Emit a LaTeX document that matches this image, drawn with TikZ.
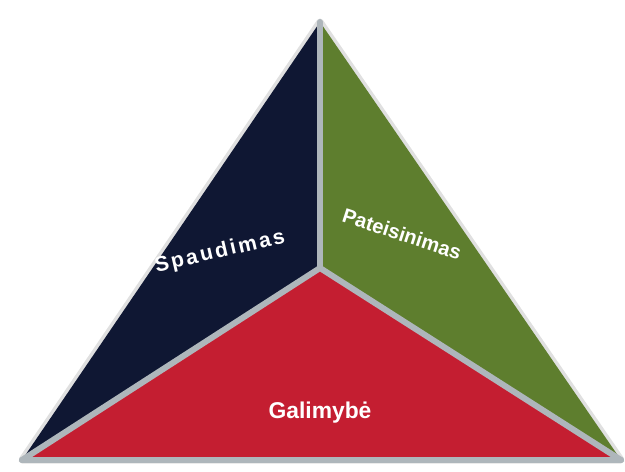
\documentclass[tikz,border=0pt]{standalone}
\usepackage{fontspec}
\setmainfont{Liberation Sans}
\definecolor{navy}{HTML}{0F1733}
\definecolor{olive}{HTML}{5E7E2E}
\definecolor{crimson}{HTML}{C41E31}
\definecolor{seam}{HTML}{AEB6BB}
\begin{document}
\begin{tikzpicture}[x=0.02cm, y=-0.02cm, seam line/.style={draw=seam,line width=3.4pt,line cap=round},label node/.style={text=white,font=\bfseries,inner sep=0pt}]%y down, px units
\useasboundingbox (0,0) rectangle (625,471);
\coordinate (top) at (320,22);%apex
\coordinate (bl) at (22,460);%left corner
\coordinate (br) at (621,460);%right corner
\coordinate (mid) at (320,268);%inner point
%soft shadow
\draw[black!12,line width=4pt,line join=round] (top) -- (bl) -- (br) -- cycle;
\begin{scope}
\fill[navy] (top) -- (bl) -- (mid) -- cycle;
\fill[olive] (top) -- (mid) -- (br) -- cycle;
\fill[crimson] (bl) -- (mid) -- (br) -- cycle;
\end{scope}
\begin{scope}[every path/.style={seam line}]
\draw (mid) -- (top);
\draw (mid) -- (bl);
\draw (mid) -- (br);
\draw (bl) -- (br);
\end{scope}
\begin{scope}[every node/.style={label node}]
\node[rotate=13,font=\bfseries\fontsize{12}{14}\selectfont\addfontfeature{LetterSpace=12}] (spaud) at (220,252) {Spaudimas};
\node[rotate=-18,font=\bfseries\fontsize{11.5}{14}\selectfont] (pateis) at (402,234) {Pateisinimas};
\node[font=\bfseries\fontsize{13}{16}\selectfont] (galim) at (320,413) {Galimybė};
\end{scope}
\end{tikzpicture}
\end{document}
